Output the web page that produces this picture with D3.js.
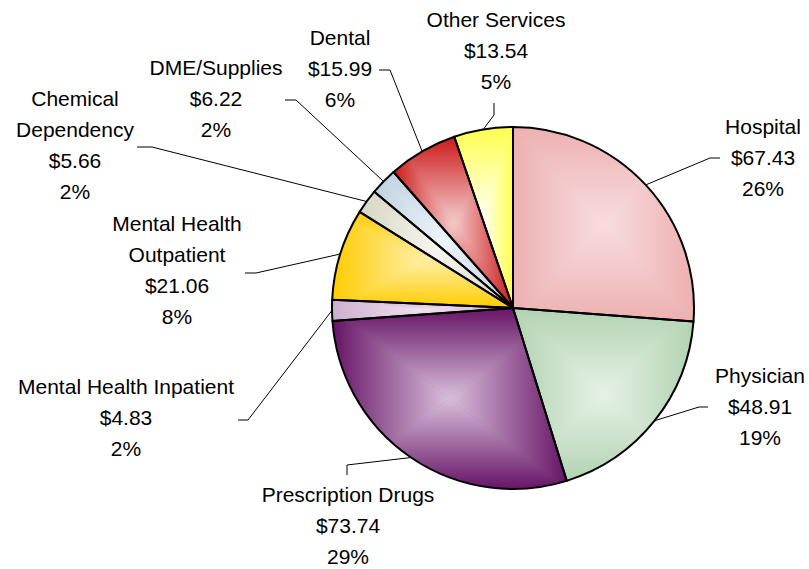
<!DOCTYPE html>
<html>
<head>
<meta charset="utf-8">
<script src="https://cdn.jsdelivr.net/npm/d3@7"></script>
<style>
  html, body { margin: 0; padding: 0; background: #fff; }
  svg { display: block; }
  text { font-family: "Liberation Sans", Arial, sans-serif; font-size: 21px; fill: #000; }
</style>
</head>
<body>
<script>
// Spending per member by service category
const categories = ["Hospital", "Physician", "Prescription Drugs", "Mental Health Inpatient",
  "Mental Health Outpatient", "Chemical Dependency", "DME/Supplies", "Dental", "Other Services"];
const costs = [67.43, 48.91, 73.74, 4.83, 21.06, 5.66, 6.22, 15.99, 13.54];

// How each category name is broken across lines in its label
const nameLines = [["Hospital"], ["Physician"], ["Prescription Drugs"], ["Mental Health Inpatient"],
  ["Mental Health", "Outpatient"], ["Chemical", "Dependency"], ["DME/Supplies"], ["Dental"], ["Other Services"]];

// Shaded fill: light colour at the middle of each slice, full colour at its edges
const centerColors = ["#f8dde0", "#e6f1e6", "#d9bfdb", "#f0e4f0", "#ffefa8", "#f6f6f0", "#eff4f9", "#f4cbcb", "#fffff2"];
const edgeColors   = ["#edb0b0", "#b2d3b2", "#661466", "#cfaed0", "#ffcc00", "#d6d6c4", "#bfd1e2", "#cc1a1a", "#ffff4d"];

// Label placement: text centre x, first baseline y, and the leader's start and elbow points
const labelLayout = [
  { x: 763, y: 134, lead: [[720, 158], [710, 158]] },
  { x: 760, y: 383, lead: [[708, 407], [699, 407]] },
  { x: 348, y: 502, lead: [[347, 475], [347, 465]] },
  { x: 126, y: 394, lead: [[238, 420], [248, 420]] },
  { x: 177, y: 231, lead: [[245, 273], [256, 273]] },
  { x: 75,  y: 106, lead: [[137, 147], [152, 147]] },
  { x: 216, y: 75,  lead: [[285, 100], [296, 100]] },
  { x: 340, y: 45,  lead: [[379, 70],  [390, 70]] },
  { x: 496, y: 27,  lead: [[494, 103], [494, 115]] }
];

const W = 809, H = 569;
const cx = 513, cy = 308, R = 181;
const lineGap = 31;

const svg = d3.select("body").append("svg").attr("width", W).attr("height", H);
const defs = svg.append("defs");

const total = d3.sum(costs);
const slices = d3.pie().sort(null).value(d => d)(costs);
const arc = d3.arc().innerRadius(0).outerRadius(R);
const rim = d3.arc().innerRadius(R).outerRadius(R);

const pieG = svg.append("g").attr("transform", `translate(${cx},${cy})`);
const fillLayer = pieG.append("g");
const strokeLayer = pieG.append("g");

slices.forEach((d, i) => {
  const outline = strokeLayer.append("path")
    .attr("d", arc(d))
    .attr("fill", "none")
    .attr("stroke", "#000")
    .attr("stroke-width", 2)
    .attr("stroke-linejoin", "round");

  // rectangular "from centre" shading over the slice's bounding box
  const b = outline.node().getBBox();
  const x0 = b.x, y0 = b.y, x1 = b.x + b.width, y1 = b.y + b.height;
  const mx = (x0 + x1) / 2, my = (y0 + y1) / 2;

  defs.append("clipPath").attr("id", "clip" + i)
    .append("path").attr("d", arc(d));

  const g = fillLayer.append("g").attr("clip-path", `url(#clip${i})`);
  g.append("path").attr("d", arc(d)).attr("fill", edgeColors[i]);

  const sides = [
    { pts: [[x0, y0], [x1, y0], [mx, my]], to: [mx, y0] },
    { pts: [[x1, y0], [x1, y1], [mx, my]], to: [x1, my] },
    { pts: [[x1, y1], [x0, y1], [mx, my]], to: [mx, y1] },
    { pts: [[x0, y1], [x0, y0], [mx, my]], to: [x0, my] }
  ];
  sides.forEach((s, k) => {
    const id = `shade${i}_${k}`;
    const lg = defs.append("linearGradient").attr("id", id)
      .attr("gradientUnits", "userSpaceOnUse")
      .attr("x1", mx).attr("y1", my).attr("x2", s.to[0]).attr("y2", s.to[1]);
    lg.append("stop").attr("offset", 0).attr("stop-color", centerColors[i]);
    lg.append("stop").attr("offset", 1).attr("stop-color", edgeColors[i]);
    g.append("polygon")
      .attr("points", s.pts.map(p => p.join(",")).join(" "))
      .attr("fill", `url(#${id})`)
      .attr("stroke", `url(#${id})`)
      .attr("stroke-width", 0.6);
  });
});

// leader lines from each label to the middle of its slice's rim
const leaders = svg.append("g");
slices.forEach((d, i) => {
  const end = rim.centroid(d);
  const pts = labelLayout[i].lead.concat([[cx + end[0], cy + end[1]]]);
  leaders.append("polyline")
    .attr("points", pts.map(p => p.join(",")).join(" "))
    .attr("fill", "none")
    .attr("stroke", "#000")
    .attr("stroke-width", 1);
});

// labels: name, dollar amount, share of total
const labels = svg.append("g");
slices.forEach((d, i) => {
  const lines = nameLines[i].concat([
    "$" + d3.format(".2f")(costs[i]),
    Math.round(costs[i] / total * 100) + "%"
  ]);
  const t = labels.append("text")
    .attr("text-anchor", "middle")
    .attr("x", labelLayout[i].x)
    .attr("y", labelLayout[i].y);
  lines.forEach((ln, k) => {
    t.append("tspan")
      .attr("x", labelLayout[i].x)
      .attr("y", labelLayout[i].y + k * lineGap)
      .text(ln);
  });
});
</script>
</body>
</html>
